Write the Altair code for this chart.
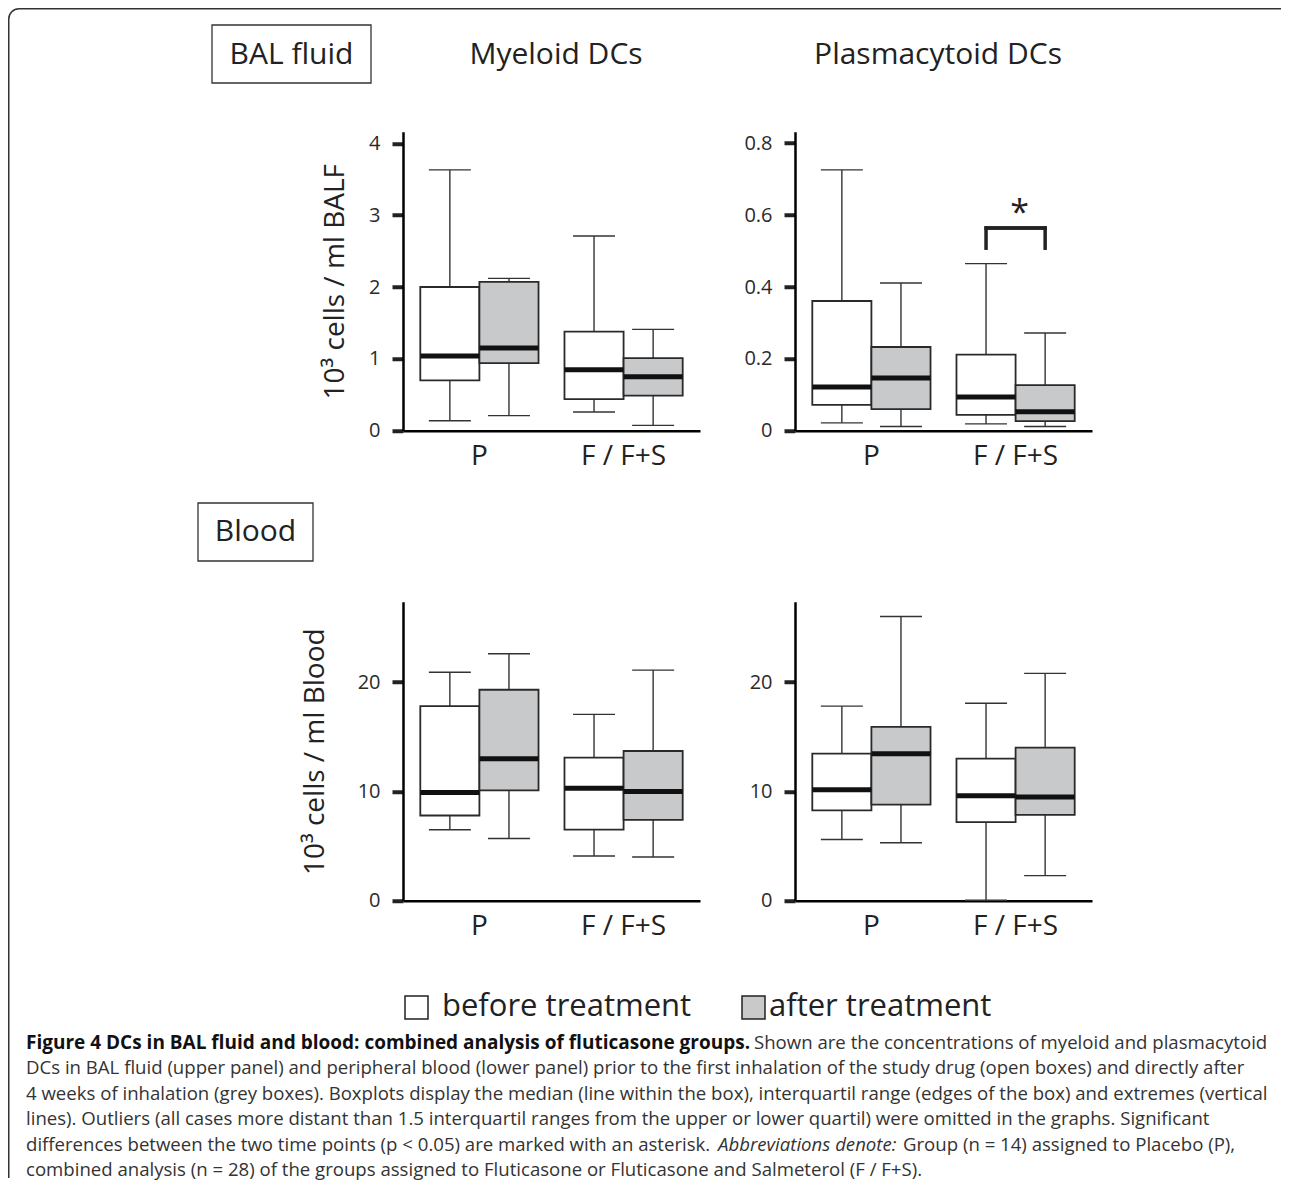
import altair as alt
import pandas as pd

FONT = "Open Sans"
groups = ["P", "F / F+S"]
times = ["before treatment", "after treatment"]

# order of values: P-before, P-after, F-before, F-after
mye_bal_lo = [0.14, 0.21, 0.26, 0.075]
mye_bal_q1 = [0.70, 0.94, 0.44, 0.49]
mye_bal_med = [1.04, 1.15, 0.85, 0.75]
mye_bal_q3 = [2.00, 2.07, 1.38, 1.01]
mye_bal_hi = [3.63, 2.12, 2.71, 1.41]

pla_bal_lo = [0.022, 0.012, 0.019, 0.012]
pla_bal_q1 = [0.072, 0.060, 0.044, 0.027]
pla_bal_med = [0.122, 0.147, 0.094, 0.053]
pla_bal_q3 = [0.361, 0.233, 0.212, 0.127]
pla_bal_hi = [0.726, 0.411, 0.465, 0.272]

mye_bld_lo = [6.5, 5.7, 4.1, 4.0]
mye_bld_q1 = [7.8, 10.1, 6.5, 7.4]
mye_bld_med = [9.9, 13.0, 10.3, 10.0]
mye_bld_q3 = [17.8, 19.3, 13.1, 13.7]
mye_bld_hi = [20.9, 22.6, 17.05, 21.1]

pla_bld_lo = [5.6, 5.3, 0.05, 2.3]
pla_bld_q1 = [8.27, 8.8, 7.2, 7.85]
pla_bld_med = [10.15, 13.45, 9.6, 9.5]
pla_bld_q3 = [13.45, 15.9, 13.0, 14.0]
pla_bld_hi = [17.8, 26.0, 18.06, 20.8]

bal_ticks_mye = [0, 1, 2, 3, 4]
bal_ticks_pla = [0, 0.2, 0.4, 0.6, 0.8]
bld_ticks = [0, 10, 20]

sig_group = ["F / F+S"]
sig_leg_low = [0.508]
sig_bar = [0.564]
sig_star = [0.603]

col_titles = ["Myeloid DCs", "Plasmacytoid DCs"]
row_labels = ["BAL fluid", "Blood"]
y_titles = ["10³ cells / ml BALF", "10³ cells / ml Blood"]

caption_bold = "Figure 4 DCs in BAL fluid and blood: combined analysis of fluticasone groups."
caption_l1 = "Shown are the concentrations of myeloid and plasmacytoid"
caption_lines = [
    "DCs in BAL fluid (upper panel) and peripheral blood (lower panel) prior to the first inhalation of the study drug (open boxes) and directly after",
    "4 weeks of inhalation (grey boxes). Boxplots display the median (line within the box), interquartil range (edges of the box) and extremes (vertical",
    "lines). Outliers (all cases more distant than 1.5 interquartil ranges from the upper or lower quartil) were omitted in the graphs. Significant",
]
caption_l5a = "differences between the two time points (p < 0.05) are marked with an asterisk."
caption_l5b = "Abbreviations denote:"
caption_l5c = "Group (n = 14) assigned to Placebo (P),"
caption_l6 = "combined analysis (n = 28) of the groups assigned to Fluticasone or Fluticasone and Salmeterol (F / F+S)."

W, H = 297, 299
OX, OY = 403, 131.75  # page position of first panel's plot origin
GREY = "#c8c9cb"
ROWSP, COLSP = 171, 95


def box_df(lo, q1, med, q3, hi):
    rows = []
    k = 0
    for g in groups:
        for t in times:
            rows.append(dict(group=g, time=t, lo=lo[k], q1=q1[k], med=med[k], q3=q3[k], hi=hi[k]))
            k += 1
    return pd.DataFrame(rows)


def one(s):
    return alt.Chart(pd.DataFrame({"t": [s]}))


def txt(s, px, py, size, **kw):
    return one(s).mark_text(fontSize=size, baseline="middle", font=FONT, **kw).encode(
        text="t:N", x=alt.value(px - OX), y=alt.value(py - OY))


def rect(x1, y1, x2, y2, fill="white", stroke="#333", sw=1.3):
    return one("r").mark_rect(fill=fill, stroke=stroke, strokeWidth=sw).encode(
        x=alt.value(x1 - OX), x2=alt.value(x2 - OX), y=alt.value(y1 - OY), y2=alt.value(y2 - OY))


def panel(df, ymax, yvals, ytitle=None, title_x=-68, extra=None):
    xs = alt.Scale(paddingInner=0.18, paddingOuter=0.12)
    xax = alt.Axis(title=None)
    x = alt.X("group:N", sort=groups, scale=xs, axis=xax)
    xo = alt.XOffset("time:N", sort=times, scale=alt.Scale(paddingInner=0, paddingOuter=0))
    ys = alt.Scale(domain=[0, ymax], nice=False, zero=True)
    if ytitle:
        yax = alt.Axis(values=yvals, format="~r", title=ytitle, titleX=title_x, titleY=H / 2,
                       titleBaseline="middle", titleAngle=270)
    else:
        yax = alt.Axis(values=yvals, format="~r", title=None)

    def Y(f):
        return alt.Y(f, scale=ys, axis=yax)

    base = alt.Chart(df)
    whisk = base.mark_rule(color="#333", strokeWidth=1.4).encode(x=x, xOffset=xo, y=Y("lo:Q"), y2="hi:Q")
    cap_lo = base.mark_tick(color="#333", thickness=1.4, size=42, opacity=1).encode(x=x, xOffset=xo, y=Y("lo:Q"))
    cap_hi = base.mark_tick(color="#333", thickness=1.4, size=42, opacity=1).encode(x=x, xOffset=xo, y=Y("hi:Q"))
    box = base.mark_bar(stroke="#2a2a2a", strokeWidth=1.8, opacity=1).encode(
        x=x, xOffset=xo, y=Y("q1:Q"), y2="q3:Q",
        fill=alt.Fill("time:N", scale=alt.Scale(domain=times, range=["white", GREY]), legend=None))
    med = base.mark_tick(color="#111", thickness=5, size=59, opacity=1).encode(x=x, xOffset=xo, y=Y("med:Q"))
    layers = [whisk, cap_lo, cap_hi, box, med]
    if extra is not None:
        layers += extra(x, xo, Y)
    return alt.layer(*layers).properties(width=W, height=H)


def sig_layers(x, xo, Y):
    bdf = pd.DataFrame({"group": sig_group * 2, "time": times,
                        "y0": sig_leg_low * 2, "y1": sig_bar * 2, "ys": sig_star * 2, "s": ["*", "*"]})
    b = alt.Chart(bdf)
    legs = b.mark_rule(color="#222", strokeWidth=3.5, strokeCap="square").encode(
        x=x, xOffset=xo, y=Y("y0:Q"), y2="y1:Q")
    bar = b.mark_tick(color="#222", thickness=3.5, size=62, opacity=1).encode(x=x, y=Y("y1:Q"))
    star = alt.Chart(bdf.iloc[:1]).mark_text(fontSize=34, font=FONT, baseline="middle", color="#222",
                                             dx=4).encode(x=x, y=Y("ys:Q"), text="s:N")
    return [legs, bar, star]


def annotations():
    L = []
    # outer frame (top and left edges)
    L.append(one("b").mark_rule(color="#333", strokeWidth=1.5).encode(
        x=alt.value(19 - OX), x2=alt.value(1281 - OX), y=alt.value(8.75 - OY)))
    L.append(one("b").mark_rule(color="#333", strokeWidth=1.5).encode(
        x=alt.value(8.75 - OX), y=alt.value(19 - OY), y2=alt.value(1178 - OY)))
    L.append(one("b").mark_arc(stroke="#333", strokeWidth=1.5, fill=None, radius=10.25, radius2=10.25,
                               theta=4.712, theta2=6.283).encode(
        x=alt.value(19 - OX), y=alt.value(19 - OY)))
    # row labels
    L.append(rect(212, 25, 371, 83))
    L.append(txt(row_labels[0], 291.5, 55, 30, color="#222"))
    L.append(rect(198, 503, 313, 561))
    L.append(txt(row_labels[1], 255.5, 532, 30, color="#222"))
    # column titles
    L.append(txt(col_titles[0], 556, 55, 30, color="#222"))
    L.append(txt(col_titles[1], 938, 55, 30, color="#222"))
    # legend
    L.append(rect(405, 996, 428, 1019, fill="white", stroke="#222", sw=1.5))
    L.append(txt(times[0], 442, 1007, 31, color="#222", align="left"))
    L.append(rect(742, 996, 765, 1019, fill=GREY, stroke="#222", sw=1.5))
    L.append(txt(times[1], 769, 1007, 31, color="#222", align="left"))
    # caption
    cy0, dy, cx, fs = 1043, 25.4, 26, 18.6
    L.append(txt(caption_bold, cx, cy0, 19.0, color="#111", align="left", fontWeight="bold"))
    L.append(txt(caption_l1, 754, cy0, fs, color="#333", align="left"))
    for i, s in enumerate(caption_lines):
        L.append(txt(s, cx, cy0 + dy * (i + 1), fs, color="#333", align="left"))
    L.append(txt(caption_l5a, cx, cy0 + dy * 4, fs, color="#333", align="left"))
    L.append(txt(caption_l5b, 718, cy0 + dy * 4, fs, color="#333", align="left", fontStyle="italic"))
    L.append(txt(caption_l5c, 903, cy0 + dy * 4, fs, color="#333", align="left"))
    L.append(txt(caption_l6, cx, cy0 + dy * 5, fs, color="#333", align="left"))
    return L


df1 = box_df(mye_bal_lo, mye_bal_q1, mye_bal_med, mye_bal_q3, mye_bal_hi)
df2 = box_df(pla_bal_lo, pla_bal_q1, pla_bal_med, pla_bal_q3, pla_bal_hi)
df3 = box_df(mye_bld_lo, mye_bld_q1, mye_bld_med, mye_bld_q3, mye_bld_hi)
df4 = box_df(pla_bld_lo, pla_bld_q1, pla_bld_med, pla_bld_q3, pla_bld_hi)

p1 = panel(df1, 4.16, bal_ticks_mye, y_titles[0], -68,
           extra=lambda x, xo, Y: annotations())
p2 = panel(df2, 0.832, bal_ticks_pla, extra=sig_layers)
p3 = panel(df3, 27.35, bld_ticks, y_titles[1], -88)
p4 = panel(df4, 27.35, bld_ticks)

# total drawing size (page 8..1282 x 8..1186)
TOTAL_W, TOTAL_H = 1274, 1178
pad_left, pad_top = OX - 8, OY - 8
pad_right = TOTAL_W - pad_left
pad_bottom = TOTAL_H - pad_top

chart = alt.concat(p1, p2, p3, p4, columns=2, spacing={"row": ROWSP, "column": COLSP},
                   bounds="flush").properties(
    autosize=alt.AutoSizeParams(type="none"),
    padding={"left": pad_left, "top": pad_top, "right": pad_right, "bottom": pad_bottom}
).configure(font=FONT).configure_view(stroke=None).configure_axisY(
    domainColor="black", domainWidth=2.5, tickColor="#222", tickWidth=4, tickSize=11,
    labelFontSize=20, labelColor="#2a2a2a", labelPadding=12, grid=False, labelFont=FONT,
    titleFont=FONT, titleFontSize=28, titleFontWeight="normal", titleColor="#222"
).configure_axisX(
    domainColor="black", domainWidth=2.5, ticks=False, labelFontSize=28, labelAngle=0,
    labelPadding=12, labelColor="#222", labelFont=FONT, grid=False
)

chart.save("out.html", embed_options={"renderer": "svg", "actions": False})
